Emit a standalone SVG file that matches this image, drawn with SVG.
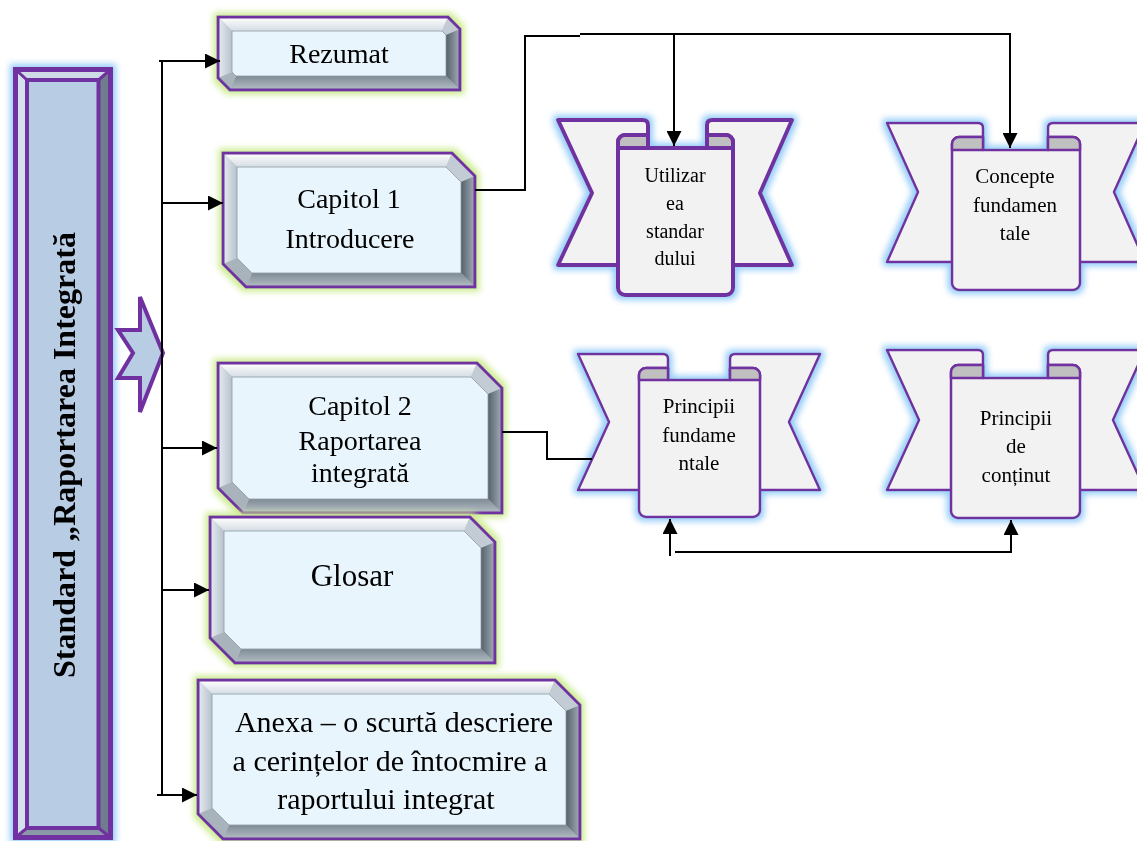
<svg xmlns="http://www.w3.org/2000/svg" width="1137" height="841" viewBox="0 0 1137 841">
<defs>
<style>
.t{font-family:"Liberation Serif","Times New Roman",serif;fill:#000;text-anchor:middle}
.ol{fill:none;stroke:#7030a0;stroke-width:3;stroke-linejoin:miter}
.face{fill:#e8f5fd}
.st{fill:url(#gTop)}
.sr{fill:url(#gRight)}
.sb{fill:url(#gBot)}
.sl{fill:url(#gLeft)}
.dtr{fill:#c3ccd4}
.dbl{fill:#a9b3bc}
.in{fill:none;stroke:#8e99a3;stroke-width:0.8}
.wing{fill:#f2f2f2;stroke:#7030a0;stroke-linejoin:round}
.roll{fill:#c0c0c0;stroke:#7030a0;stroke-linejoin:round}
.conn{fill:none;stroke:#000;stroke-width:2}
</style>
<linearGradient id="gTop" x1="0" y1="0" x2="0" y2="1"><stop offset="0" stop-color="#ffffff"/><stop offset="1" stop-color="#d5dde4"/></linearGradient>
<linearGradient id="gRight" x1="0" y1="0" x2="1" y2="0"><stop offset="0" stop-color="#55606a"/><stop offset="1" stop-color="#a3aeb8"/></linearGradient>
<linearGradient id="gBot" x1="0" y1="0" x2="0" y2="1"><stop offset="0" stop-color="#7f8b95"/><stop offset="1" stop-color="#b4bec6"/></linearGradient>
<linearGradient id="gLeft" x1="0" y1="0" x2="1" y2="0"><stop offset="0" stop-color="#e6ecf1"/><stop offset="1" stop-color="#b7c2cc"/></linearGradient>
<filter id="glowG" x="-15%" y="-25%" width="130%" height="150%">
<feMorphology in="SourceAlpha" operator="dilate" radius="3" result="d"/>
<feGaussianBlur in="d" stdDeviation="3" result="b"/>
<feFlood flood-color="#cdeb8f" result="c"/>
<feComposite in="c" in2="b" operator="in" result="g"/>
<feMerge><feMergeNode in="g"/><feMergeNode in="SourceGraphic"/></feMerge>
</filter>
<filter id="glowB" x="-15%" y="-15%" width="130%" height="130%">
<feMorphology in="SourceAlpha" operator="dilate" radius="3" result="d"/>
<feGaussianBlur in="d" stdDeviation="3" result="b"/>
<feFlood flood-color="#94ccf8" result="c"/>
<feComposite in="c" in2="b" operator="in" result="g"/>
<feMerge><feMergeNode in="g"/><feMergeNode in="SourceGraphic"/></feMerge>
</filter>
<marker id="ah" viewBox="0 0 10 10" refX="10" refY="5" markerWidth="15" markerHeight="15" markerUnits="userSpaceOnUse" orient="auto"><path d="M0,0 L10,5 L0,10 z" fill="#000"/></marker>
</defs>
<rect width="1137" height="841" fill="#fff"/>

<!-- Left vertical bar -->
<g id="standard" filter="url(#glowB)">
<rect x="15.5" y="69.5" width="95" height="768" fill="#b8cce4"/>
<polygon points="15.5,69.5 27,80 27,828 15.5,837.5" fill="#d6e1ee"/>
<polygon points="15.5,69.5 110.5,69.5 98.5,80 27,80" fill="#d0dbe8"/>
<polygon points="110.5,69.5 110.5,837.5 98.5,828 98.5,80" fill="#6f7d8c"/>
<polygon points="15.5,837.5 27,828 98.5,828 110.5,837.5" fill="#8a98a8"/>
<rect x="15.5" y="69.5" width="95" height="768" fill="none" stroke="#7030a0" stroke-width="5"/>
<rect x="27" y="80" width="71.5" height="748" fill="none" stroke="#7030a0" stroke-width="4"/>
<path d="M15.5,69.5 L27,80 M110.5,69.5 L98.5,80 M15.5,837.5 L27,828 M110.5,837.5 L98.5,828" stroke="#7030a0" stroke-width="3"/>
<text class="t" transform="translate(75,455) rotate(-90)" x="0" y="0" font-size="32" font-weight="bold" textLength="446" lengthAdjust="spacing">Standard „Raportarea Integrată</text>
</g>

<g id="chevron">
<polygon points="118,330 140,330 140,297 163,353 140,412 140,378 118,378 133,353" fill="#b8cce4" stroke="#7030a0" stroke-width="4"/>
</g>

<!-- Rezumat -->
<g id="rezumat" filter="url(#glowG)">
<polygon points="218,17 448,17 460,29 460,90 230,90 218,78" fill="#b0bac3"/>
<polygon class="st" points="218,17 448,17 442,31 232,31"/>
<polygon class="dtr" points="448,17 460,29 446,35 442,31"/>
<polygon class="sr" points="460,29 460,90 446,76 446,35"/>
<polygon class="sb" points="460,90 230,90 236,76 446,76"/>
<polygon class="dbl" points="230,90 218,78 232,72 236,76"/>
<polygon class="sl" points="218,78 218,17 232,31 232,72"/>
<polygon class="face" points="232,31 442,31 446,35 446,76 236,76 232,72"/>
<polygon class="in" points="232,31 442,31 446,35 446,76 236,76 232,72"/>
<polygon class="ol" points="218,17 448,17 460,29 460,90 230,90 218,78"/>
<text class="t" x="339" y="63" font-size="28">Rezumat</text>
</g>

<!-- Capitol 1 -->
<g id="capitol1" filter="url(#glowG)">
<polygon points="223,153 452,153 475,176 475,287 246,287 223,264" fill="#b0bac3"/>
<polygon class="st" points="223,153 452,153 446,167 237,167"/>
<polygon class="dtr" points="452,153 475,176 461,182 446,167"/>
<polygon class="sr" points="475,176 475,287 461,273 461,182"/>
<polygon class="sb" points="475,287 246,287 252,273 461,273"/>
<polygon class="dbl" points="246,287 223,264 237,258 252,273"/>
<polygon class="sl" points="223,264 223,153 237,167 237,258"/>
<polygon class="face" points="237,167 446,167 461,182 461,273 252,273 237,258"/>
<polygon class="in" points="237,167 446,167 461,182 461,273 252,273 237,258"/>
<polygon class="ol" points="223,153 452,153 475,176 475,287 246,287 223,264"/>
<text class="t" x="349" y="208" font-size="28">Capitol 1</text>
<text class="t" x="350" y="248" font-size="28">Introducere</text>
</g>

<!-- Capitol 2 -->
<g id="capitol2" filter="url(#glowG)">
<polygon points="218,363 477,363 502,388 502,513 243,513 218,488" fill="#b0bac3"/>
<polygon class="st" points="218,363 477,363 471,377 232,377"/>
<polygon class="dtr" points="477,363 502,388 488,394 471,377"/>
<polygon class="sr" points="502,388 502,513 488,499 488,394"/>
<polygon class="sb" points="502,513 243,513 249,499 488,499"/>
<polygon class="dbl" points="243,513 218,488 232,482 249,499"/>
<polygon class="sl" points="218,488 218,363 232,377 232,482"/>
<polygon class="face" points="232,377 471,377 488,394 488,499 249,499 232,482"/>
<polygon class="in" points="232,377 471,377 488,394 488,499 249,499 232,482"/>
<polygon class="ol" points="218,363 477,363 502,388 502,513 243,513 218,488"/>
<text class="t" x="360" y="415" font-size="28">Capitol 2</text>
<text class="t" x="360" y="450" font-size="28">Raportarea</text>
<text class="t" x="360" y="482" font-size="28">integrată</text>
</g>

<!-- Glosar -->
<g id="glosar" filter="url(#glowG)">
<polygon points="210,517 470,517 495,542 495,663 235,663 210,638" fill="#b0bac3"/>
<polygon class="st" points="210,517 470,517 464,531 224,531"/>
<polygon class="dtr" points="470,517 495,542 481,548 464,531"/>
<polygon class="sr" points="495,542 495,663 481,649 481,548"/>
<polygon class="sb" points="495,663 235,663 241,649 481,649"/>
<polygon class="dbl" points="235,663 210,638 224,632 241,649"/>
<polygon class="sl" points="210,638 210,517 224,531 224,632"/>
<polygon class="face" points="224,531 464,531 481,548 481,649 241,649 224,632"/>
<polygon class="in" points="224,531 464,531 481,548 481,649 241,649 224,632"/>
<polygon class="ol" points="210,517 470,517 495,542 495,663 235,663 210,638"/>
<text class="t" x="352" y="586" font-size="31">Glosar</text>
</g>

<!-- Anexa -->
<g id="anexa" filter="url(#glowG)">
<polygon points="198,680 555,680 580,705 580,839 223,839 198,814" fill="#b0bac3"/>
<polygon class="st" points="198,680 555,680 549,694 212,694"/>
<polygon class="dtr" points="555,680 580,705 566,711 549,694"/>
<polygon class="sr" points="580,705 580,839 566,825 566,711"/>
<polygon class="sb" points="580,839 223,839 229,825 566,825"/>
<polygon class="dbl" points="223,839 198,814 212,808 229,825"/>
<polygon class="sl" points="198,814 198,680 212,694 212,808"/>
<polygon class="face" points="212,694 549,694 566,711 566,825 229,825 212,808"/>
<polygon class="in" points="212,694 549,694 566,711 566,825 229,825 212,808"/>
<polygon class="ol" points="198,680 555,680 580,705 580,839 223,839 198,814"/>
<text class="t" x="394" y="732" font-size="30">Anexa – o scurtă descriere</text>
<text class="t" x="390" y="771" font-size="30">a cerințelor de întocmire a</text>
<text class="t" x="386" y="809" font-size="30">raportului integrat</text>
</g>

<!-- Banner 1 -->
<g id="utilizarea" filter="url(#glowB)">
<path class="wing" stroke-width="4" d="M558,120 H643 Q648,120 648,125 L648,265 L558,265 L592,193 Z"/>
<path class="wing" stroke-width="4" d="M792,120 H712 Q707,120 707,125 L707,265 L792,265 L760,193 Z"/>
<path class="wing" stroke-width="4" d="M618,142 A7,7 0 0 1 625,135 H648 V148 H707 V135 H726 A7,7 0 0 1 733,142 V288 A7,7 0 0 1 726,295 H625 A7,7 0 0 1 618,288 Z"/>
<path class="roll" stroke-width="4" d="M618,148 V142 A7,7 0 0 1 625,135 H648 V148 Z"/>
<path class="roll" stroke-width="4" d="M707,148 V135 H726 A7,7 0 0 1 733,142 V148 Z"/>
<text class="t" x="675" y="182" font-size="20">Utilizar</text>
<text class="t" x="675" y="210" font-size="20">ea</text>
<text class="t" x="675" y="238" font-size="20">standar</text>
<text class="t" x="675" y="265" font-size="20">dului</text>
</g>

<!-- Banner 2 -->
<g id="concepte" filter="url(#glowB)">
<path class="wing" stroke-width="2.5" d="M887,123 H978 Q983,123 983,128 L983,262 L887,262 L918,192 Z"/>
<path class="wing" stroke-width="2.5" d="M1145,123 H1053 Q1048,123 1048,128 L1048,262 L1145,262 L1114,192 Z"/>
<path class="wing" stroke-width="2.5" d="M952,144 A7,7 0 0 1 959,137 H983 V150 H1048 V137 H1073 A7,7 0 0 1 1080,144 V283 A7,7 0 0 1 1073,290 H959 A7,7 0 0 1 952,283 Z"/>
<path class="roll" stroke-width="2.5" d="M952,150 V144 A7,7 0 0 1 959,137 H983 V150 Z"/>
<path class="roll" stroke-width="2.5" d="M1048,150 V137 H1073 A7,7 0 0 1 1080,144 V150 Z"/>
<text class="t" x="1015" y="183" font-size="21">Concepte</text>
<text class="t" x="1015" y="212" font-size="21">fundamen</text>
<text class="t" x="1015" y="240" font-size="21">tale</text>
</g>

<!-- Banner 3 -->
<g id="principii-fundamentale" filter="url(#glowB)">
<path class="wing" stroke-width="2.5" d="M578,354 H663 Q668,354 668,359 L668,490 L578,490 L609,422 Z"/>
<path class="wing" stroke-width="2.5" d="M820,354 H735 Q730,354 730,359 L730,490 L820,490 L789,422 Z"/>
<path class="wing" stroke-width="2.5" d="M639,375 A7,7 0 0 1 646,368 H668 V380 H730 V368 H753 A7,7 0 0 1 760,375 V510 A7,7 0 0 1 753,517 H646 A7,7 0 0 1 639,510 Z"/>
<path class="roll" stroke-width="2.5" d="M639,380 V375 A7,7 0 0 1 646,368 H668 V380 Z"/>
<path class="roll" stroke-width="2.5" d="M730,380 V368 H753 A7,7 0 0 1 760,375 V380 Z"/>
<text class="t" x="699" y="413" font-size="21">Principii</text>
<text class="t" x="699" y="442" font-size="21">fundame</text>
<text class="t" x="699" y="470" font-size="21">ntale</text>
</g>

<!-- Banner 4 -->
<g id="principii-continut" filter="url(#glowB)">
<path class="wing" stroke-width="2.5" d="M887,350 H978 Q983,350 983,355 L983,490 L887,490 L919,420 Z"/>
<path class="wing" stroke-width="2.5" d="M1145,350 H1053 Q1048,350 1048,355 L1048,490 L1145,490 L1113,420 Z"/>
<path class="wing" stroke-width="2.5" d="M951,372 A7,7 0 0 1 958,365 H983 V378 H1048 V365 H1073 A7,7 0 0 1 1080,372 V511 A7,7 0 0 1 1073,518 H958 A7,7 0 0 1 951,511 Z"/>
<path class="roll" stroke-width="2.5" d="M951,378 V372 A7,7 0 0 1 958,365 H983 V378 Z"/>
<path class="roll" stroke-width="2.5" d="M1048,378 V365 H1073 A7,7 0 0 1 1080,372 V378 Z"/>
<text class="t" x="1016" y="425" font-size="21">Principii</text>
<text class="t" x="1016" y="453" font-size="21">de</text>
<text class="t" x="1016" y="482" font-size="21">conținut</text>
</g>

<!-- Connectors -->
<g id="connectors">
<path class="conn" d="M162,60 V795"/>
<path class="conn" d="M159,61 H220" marker-end="url(#ah)"/>
<path class="conn" d="M162,203 H223" marker-end="url(#ah)"/>
<path class="conn" d="M162,448 H217" marker-end="url(#ah)"/>
<path class="conn" d="M162,590 H209" marker-end="url(#ah)"/>
<path class="conn" d="M157,795 H197" marker-end="url(#ah)"/>
<path class="conn" d="M475,190 H525 V36 H580"/>
<path class="conn" d="M580,34 H1010 V148" marker-end="url(#ah)"/>
<path class="conn" d="M674,34 V146" marker-end="url(#ah)"/>
<path class="conn" d="M502,432 H547 V459 H592"/>
<path class="conn" d="M670,556 V519" marker-end="url(#ah)"/>
<path class="conn" d="M675,552 H1011 V520" marker-end="url(#ah)"/>
</g>
</svg>
